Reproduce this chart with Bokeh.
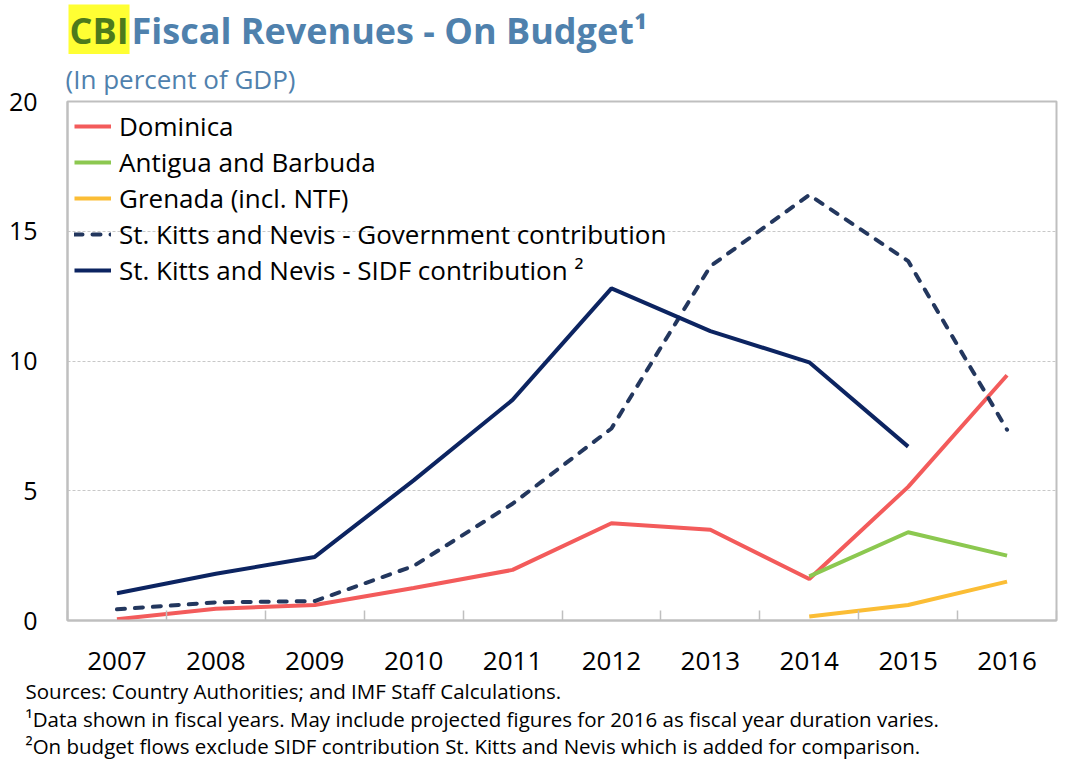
from bokeh.plotting import figure
from bokeh.layouts import column
from bokeh.models import FixedTicker, Label, Legend, LegendItem, Range1d, Title
from bokeh.embed import file_html
from bokeh.resources import INLINE

years = [2007, 2008, 2009, 2010, 2011, 2012, 2013, 2014, 2015, 2016]
dominica = [0.05, 0.45, 0.6, 1.25, 1.95, 3.75, 3.5, 1.6, 5.15, 9.45]
antigua_years = [2014, 2015, 2016]
antigua = [1.7, 3.4, 2.5]
grenada_years = [2014, 2015, 2016]
grenada = [0.15, 0.6, 1.5]
skn_gov = [0.43, 0.7, 0.75, 2.1, 4.5, 7.4, 13.65, 16.4, 13.85, 7.35]
skn_sidf_years = [2007, 2008, 2009, 2010, 2011, 2012, 2013, 2014, 2015]
skn_sidf = [1.05, 1.8, 2.45, 5.4, 8.5, 12.8, 11.15, 9.95, 6.7]
y_ticks = [0, 5, 10, 15, 20]

title_hl = "CBI"
title_main = "Fiscal Revenues - On Budget\u00b9"
subtitle = "(In percent of GDP)"
notes = [
    "Sources: Country Authorities; and IMF Staff Calculations.",
    "\u00b9Data shown in fiscal years. May include projected figures for 2016 as fiscal year duration varies.",
    "\u00b2On budget flows exclude SIDF contribution St. Kitts and Nevis which is added for comparison.",
]

FONT = "Open Sans"
GRAY = "#bfbfbf"
TITLE_BLUE = "#4f81ad"
W = 1058
FRAME_L, FRAME_R = 67, 2

# ---------- header (title line) ----------
HEADER_H = 54
head = figure(width=W, height=HEADER_H, output_backend="svg", toolbar_location=None,
              x_range=Range1d(FRAME_L, W - FRAME_R), y_range=Range1d(HEADER_H, 0),
              x_axis_type=None, y_axis_type=None,
              min_border_left=FRAME_L, min_border_right=FRAME_R,
              min_border_top=0, min_border_bottom=0)
head.outline_line_color = None
head.grid.visible = False
head.add_layout(Label(x=68, y=29.5, text=title_hl, text_font=FONT, text_font_size="36px",
                      text_font_style="bold", text_color="#4d7a1c", text_baseline="middle",
                      background_fill_color="#ffff33", padding=1))
head.add_layout(Label(x=131, y=29.5, text=title_main, text_font=FONT, text_font_size="36px",
                      text_font_style="bold", text_color=TITLE_BLUE, text_baseline="middle"))

# ---------- chart ----------
p = figure(width=W, height=708, output_backend="svg", toolbar_location=None,
           x_range=Range1d(2006.5, 2016.5), y_range=Range1d(0, 20),
           min_border_left=FRAME_L, min_border_right=FRAME_R, min_border_top=0, min_border_bottom=0)
p.background_fill_color = "white"
p.border_fill_color = "white"
p.outline_line_color = GRAY
p.outline_line_width = 2

p.add_layout(Title(text=subtitle, align="left", offset=-2, standoff=9, text_font=FONT,
                   text_font_size="26px", text_font_style="normal", text_color=TITLE_BLUE), "above")

p.xaxis.ticker = FixedTicker(ticks=years, minor_ticks=[y - 0.5 for y in years] + [years[-1] + 0.5])
p.xaxis.major_tick_in = 0
p.xaxis.major_tick_out = 0
p.xaxis.minor_tick_in = 10
p.xaxis.minor_tick_out = 0
p.xaxis.minor_tick_line_color = GRAY
p.xaxis.minor_tick_line_width = 1.5
p.xaxis.axis_line_color = GRAY
p.xaxis.axis_line_width = 2
p.xaxis.major_label_text_font = FONT
p.xaxis.major_label_text_font_size = "26px"
p.xaxis.major_label_text_color = "black"
p.xaxis.major_label_standoff = 31

p.yaxis.ticker = FixedTicker(ticks=y_ticks)
p.yaxis.major_tick_in = 0
p.yaxis.major_tick_out = 0
p.yaxis.minor_tick_in = 0
p.yaxis.minor_tick_out = 0
p.yaxis.axis_line_color = GRAY
p.yaxis.axis_line_width = 2
p.yaxis.major_label_text_font = FONT
p.yaxis.major_label_text_font_size = "25px"
p.yaxis.major_label_text_color = "black"
p.yaxis.major_label_standoff = 30

p.xgrid.grid_line_color = None
p.ygrid.grid_line_color = "#c8c8c8"
p.ygrid.grid_line_dash = "3 2"
p.ygrid.grid_line_width = 1

r_dom = p.line(years, dominica, line_color="#f35b5b", line_width=4)
r_ant = p.line(antigua_years, antigua, line_color="#8cc850", line_width=4)
r_gre = p.line(grenada_years, grenada, line_color="#fbbd35", line_width=4)
r_gov = p.line(years, skn_gov, line_color="#23375e", line_width=4, line_dash="8 10", line_cap="round")
r_sidf = p.line(skn_sidf_years, skn_sidf, line_color="#0c2461", line_width=4)

legend = Legend(items=[
    LegendItem(label="Dominica", renderers=[r_dom]),
    LegendItem(label="Antigua and Barbuda", renderers=[r_ant]),
    LegendItem(label="Grenada (incl. NTF)", renderers=[r_gre]),
    LegendItem(label="St. Kitts and Nevis - Government contribution", renderers=[r_gov]),
    LegendItem(label="St. Kitts and Nevis - SIDF contribution \u00b2", renderers=[r_sidf]),
], location="top_left")
legend.background_fill_alpha = 0
legend.border_line_color = "white"
legend.border_line_alpha = 0
legend.margin = 0
legend.padding = 7
legend.spacing = 0
legend.glyph_width = 37
legend.glyph_height = 30
legend.label_height = 30
legend.label_standoff = 8
legend.label_text_font = FONT
legend.label_text_font_size = "26px"
legend.label_text_color = "black"
p.add_layout(legend)

p.add_layout(Title(text="\n".join(notes), align="left", offset=25 - FRAME_L, standoff=5.5,
                   text_font=FONT, text_font_size="20.5px", text_font_style="normal",
                   text_line_height=0.97, text_color="black"), "below")

layout = column(head, p, spacing=0)
open("out.html", "w").write(file_html(layout, INLINE))
